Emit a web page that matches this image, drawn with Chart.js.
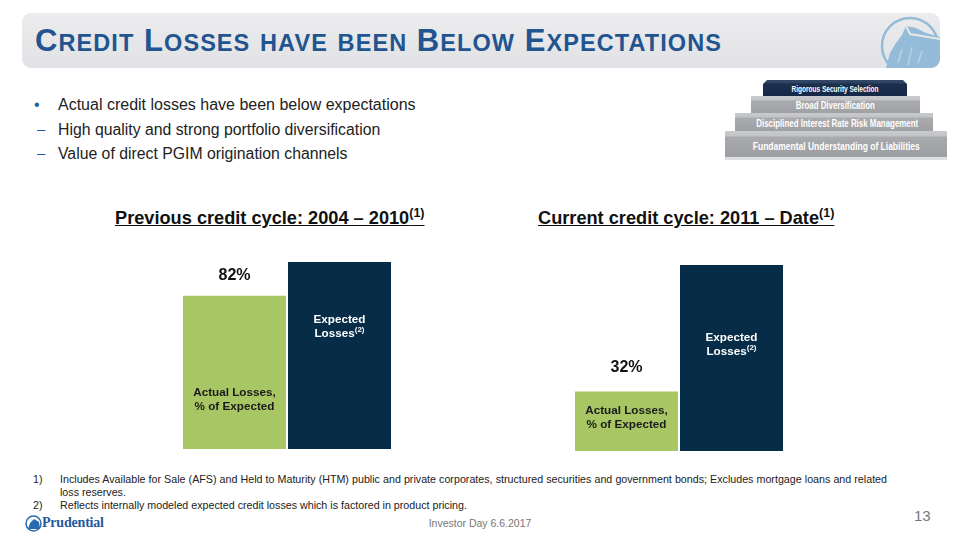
<!DOCTYPE html>
<html>
<head>
<meta charset="utf-8">
<script src="https://cdn.jsdelivr.net/npm/chart.js@4.4.1/dist/chart.umd.min.js"></script>
<style>
html,body{margin:0;padding:0;background:#fff;}
body{width:960px;height:540px;position:relative;overflow:hidden;font-family:"Liberation Sans",Arial,sans-serif;}
.abs{position:absolute;}
#band{left:22px;top:13px;width:918px;height:55px;border-radius:9px;background:linear-gradient(#ececee,#e1e2e5);overflow:hidden;}
#title{left:35px;top:23px;font-weight:bold;font-size:31px;color:#22548f;white-space:nowrap;}
#title .sm{font-size:23.5px;}
.bul{font-size:16px;color:#222;white-space:nowrap;}
.ctitle{font-weight:bold;font-size:18.2px;color:#111;text-decoration:underline;white-space:nowrap;}
.ctitle sup{font-size:12.5px;vertical-align:7px;line-height:0;}
.fn{font-size:10.7px;color:#222;line-height:13px;white-space:nowrap;}
.step{position:absolute;color:#fff;font-weight:bold;text-align:center;white-space:nowrap;overflow:visible;}
.step span{display:inline-block;transform-origin:50% 50%;}
</style>
</head>
<body>
<div id="band" class="abs">
<svg class="abs" style="left:850px;top:0px" width="68" height="55" viewBox="0 0 68 55">
  <circle cx="38" cy="33" r="28" fill="none" stroke="#94bbd8" stroke-width="2.5"/>
  <path d="M14 55 L18 40 L24 30 L30 22 L34 13 L44 15 L54 20 L68 24 L68 55 Z" fill="#94bbd8"/>
  <path d="M34 13 L38 21 L50 23 L68 26" fill="none" stroke="#e6e7e9" stroke-width="2"/>
  <path d="M26 50 L30 36 M36 52 L40 34 M46 50 L50 38" stroke="#b9d2e5" stroke-width="1.5"/>
</svg>
</div>
<div id="title" class="abs"></div>

<div class="abs bul" style="left:34px;top:96px;color:#1f5fa8;">•</div>
<div class="abs bul" style="left:58px;top:96px;">Actual credit losses have been below expectations</div>
<div class="abs bul" style="left:37px;top:120px;color:#1f5fa8;font-size:15px;">–</div>
<div class="abs bul" style="left:58px;top:121px;font-size:15.8px;">High quality and strong portfolio diversification</div>
<div class="abs bul" style="left:37px;top:144px;color:#1f5fa8;font-size:15px;">–</div>
<div class="abs bul" style="left:58px;top:145px;font-size:15.8px;">Value of direct PGIM origination channels</div>

<!-- pyramid -->
<div class="abs" style="left:725px;top:157px;width:222px;height:3px;background:#dcdee1;"></div>
<div class="step" style="left:725px;top:131px;width:222px;height:26px;line-height:30px;font-size:10.5px;background:linear-gradient(#c9cacd 0,#c3c4c7 5px,#a9aaad 6px,#9d9ea1 100%);"><span data-fit="167">Fundamental Understanding of Liabilities</span></div>
<div class="step" style="left:735px;top:113px;width:198px;height:18px;line-height:21px;font-size:10px;background:linear-gradient(#c9cacd 0,#c3c4c7 4px,#aaabae 5px,#9fa0a3 100%);"><span data-fit="162">Disciplined Interest Rate Risk Management</span></div>
<div class="step" style="left:751px;top:96px;width:169px;height:17px;line-height:20px;font-size:10px;background:linear-gradient(#c9cacd 0,#c3c4c7 4px,#aaabae 5px,#a0a1a4 100%);"><span data-fit="79">Broad Diversification</span></div>
<div class="step" style="left:763px;top:80px;width:144px;height:16px;line-height:19px;font-size:9px;background:linear-gradient(#35496a 0,#2c405f 3px,#1c2f4c 4px,#15284a 100%);clip-path:polygon(4px 0,140px 0,144px 4px,144px 16px,0 16px,0 4px);"><span data-fit="87">Rigorous Security Selection</span></div>

<div class="abs ctitle" style="left:115px;top:208px;">Previous credit cycle: 2004 – 2010<sup>(1)</sup></div>
<div class="abs ctitle" style="left:538px;top:208px;">Current credit cycle: 2011 – Date<sup>(1)</sup></div>

<div class="abs" style="left:182px;top:262px;width:210px;height:187px;"><canvas id="c1"></canvas></div>
<div class="abs" style="left:574px;top:265px;width:210px;height:186px;"><canvas id="c2"></canvas></div>

<div class="abs fn" style="left:33px;top:473px;">1)</div>
<div class="abs fn" style="left:60px;top:473px;width:827px;text-align:justify;text-align-last:justify;white-space:normal;">Includes Available for Sale (AFS) and Held to Maturity (HTM) public and private corporates, structured securities and government bonds; Excludes mortgage loans and related</div>
<div class="abs fn" style="left:60px;top:486px;">loss reserves.</div>
<div class="abs fn" style="left:33px;top:499px;">2)</div>
<div class="abs fn" style="left:60px;top:499px;">Reflects internally modeled expected credit losses which is factored in product pricing.</div>

<svg class="abs" style="left:25px;top:514px" width="17" height="19" viewBox="0 0 17 19">
  <circle cx="8.5" cy="9.5" r="7.5" fill="none" stroke="#2a6bb0" stroke-width="1.5"/>
  <path d="M3 15 L5 9 L9 5 L14 8 L15 15 Z" fill="#2a6bb0"/>
</svg>
<div class="abs" style="left:42px;top:515px;font-family:'Liberation Serif',serif;font-weight:bold;font-size:14px;color:#1f5a9e;letter-spacing:-0.2px;">Prudential</div>
<div class="abs" style="left:0;width:960px;top:517px;text-align:center;font-size:10.5px;color:#777;">Investor Day 6.6.2017</div>
<div class="abs" style="left:914px;top:507px;font-size:15px;color:#777;">13</div>

<script>
(function(){
  // small-caps title: capitalised words get a large first letter
  const t = document.getElementById('title');
  const words = 'Credit Losses have been Below Expectations'.split(' ');
  words.forEach((w, i) => {
    if (i) t.appendChild(document.createTextNode(' '));
    const first = w[0];
    if (first === first.toUpperCase()) {
      t.appendChild(document.createTextNode(first));
      const s = document.createElement('span'); s.className = 'sm';
      s.textContent = w.slice(1).toUpperCase(); t.appendChild(s);
    } else {
      const s = document.createElement('span'); s.className = 'sm';
      s.textContent = w.toUpperCase(); t.appendChild(s);
    }
  });
  const target = 687;
  const w = t.getBoundingClientRect().width;
  const n = t.textContent.length;
  t.style.letterSpacing = ((target - w) / n) + 'px';
  document.querySelectorAll('[data-fit]').forEach(el => {
    const tw = parseFloat(el.getAttribute('data-fit'));
    const w0 = el.getBoundingClientRect().width;
    el.style.transform = 'scaleX(' + (tw / w0) + ')';
  });
})();

const categories = ["Actual Losses, % of Expected", "Expected Losses"];
const previousCycle = [82, 100];
const currentCycle = [32, 100];
const valueLabelsPrev = ["82%", ""];
const valueLabelsCurr = ["32%", ""];
const barColors = ["#a8c764", "#062c47"];

const FONT = '"Liberation Sans",Arial,sans-serif';

function drawLines(ctx, x, y, lines, color) {
  ctx.fillStyle = color;
  ctx.textBaseline = 'middle';
  lines.forEach((ln, i) => {
    const yy = y + i * 14;
    ctx.font = 'bold 11.7px ' + FONT;
    if (ln.sup) {
      const w1 = ctx.measureText(ln.text).width;
      ctx.font = 'bold 8px ' + FONT;
      const w2 = ctx.measureText(ln.sup).width;
      const x0 = x - (w1 + w2) / 2;
      ctx.textAlign = 'left';
      ctx.font = 'bold 11.7px ' + FONT;
      ctx.fillText(ln.text, x0, yy);
      ctx.font = 'bold 8px ' + FONT;
      ctx.fillText(ln.sup, x0 + w1, yy - 4);
    } else {
      ctx.textAlign = 'center';
      ctx.fillText(ln.text, x, yy);
    }
  });
}

const labelPlugin = {
  id: 'barLabels',
  afterDatasetsDraw(chart, args, opts) {
    const ctx = chart.ctx;
    const meta = chart.getDatasetMeta(0);
    const bottom = chart.chartArea.bottom;
    ctx.save();
    meta.data.forEach((bar, i) => {
      const v = opts.values[i];
      if (v) {
        ctx.font = 'bold 16px ' + FONT;
        ctx.fillStyle = '#111';
        ctx.textAlign = 'center';
        ctx.textBaseline = 'middle';
        ctx.fillText(v, bar.x, bar.y - opts.valueGap);
      }
      const h = bottom - bar.y;
      const yy = bar.y + h * opts.inner[i];
      const lines = i === 0
        ? [{text: 'Actual Losses,'}, {text: '% of Expected'}]
        : [{text: 'Expected'}, {text: 'Losses', sup: '(2)'}];
      drawLines(ctx, bar.x, yy, lines, i === 0 ? '#1a1a1a' : '#ffffff');
    });
    ctx.restore();
  }
};

function makeChart(id, data, values, inner, gap) {
  new Chart(document.getElementById(id), {
    type: 'bar',
    data: {
      labels: categories,
      datasets: [{
        data: data,
        backgroundColor: barColors,
        borderWidth: 0,
        categoryPercentage: 1,
        barPercentage: 103 / 105
      }]
    },
    options: {
      responsive: true,
      maintainAspectRatio: false,
      animation: false,
      layout: {padding: 0},
      scales: {
        x: {display: false},
        y: {display: false, min: 0, max: 100}
      },
      plugins: {
        legend: {display: false},
        tooltip: {enabled: false},
        barLabels: {values: values, inner: inner, valueGap: gap}
      }
    },
    plugins: [labelPlugin]
  });
}

makeChart('c1', previousCycle, valueLabelsPrev, [0.635, 0.31], 20);
makeChart('c2', currentCycle, valueLabelsCurr, [0.33, 0.39], 24);
</script>
</body>
</html>
